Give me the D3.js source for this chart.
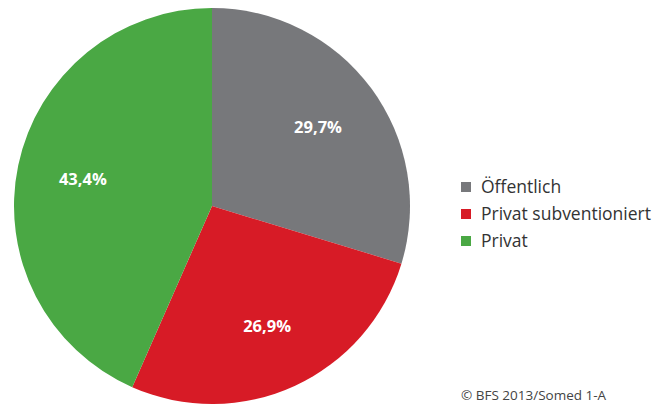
<!DOCTYPE html>
<html><head><meta charset="utf-8">
<script src="https://cdn.jsdelivr.net/npm/d3@7"></script>
<style>body{margin:0;background:#fff}svg{display:block}</style>
</head><body>
<svg id="c" width="653" height="404"></svg>
<script>
const categories = ["Öffentlich", "Privat subventioniert", "Privat"];
const values = [29.7, 26.9, 43.4];
const colors = ["#77787b", "#d71b26", "#4aa844"];
const labels = ["29,7%", "26,9%", "43,4%"];
const source = "© BFS 2013/Somed 1-A";

const svg = d3.select("#c");
const cx = 212, cy = 206, r = 198;
const pie = d3.pie().sort(null).value(d => d)(values);
const arc = d3.arc().innerRadius(0).outerRadius(r);
const labelArc = d3.arc().innerRadius(132).outerRadius(132);
const g = svg.append("g").attr("transform", `translate(${cx},${cy})`);
g.selectAll("path").data(pie).join("path")
  .attr("d", arc).attr("fill", (d, i) => colors[i]);
g.selectAll("text").data(pie).join("text")
  .attr("transform", d => `translate(${labelArc.centroid(d)})`)
  .attr("text-anchor", "middle").attr("dy", "0.36em")
  .attr("fill", "#fff").attr("font-family", "'Open Sans', sans-serif")
  .attr("font-weight", "bold").attr("font-size", 16.5)
  .text((d, i) => labels[i]);

const leg = svg.append("g").attr("transform", "translate(461,187)");
const rows = leg.selectAll("g").data(categories).join("g")
  .attr("transform", (d, i) => `translate(0,${i * 27})`);
rows.append("rect").attr("x", 0).attr("y", -5).attr("width", 10).attr("height", 10)
  .attr("fill", (d, i) => colors[i]);
rows.append("text").attr("x", 20).attr("dy", "0.36em")
  .attr("font-family", "'Open Sans', sans-serif").attr("font-size", 17.5)
  .attr("fill", "#333").text(d => d);

svg.append("text").attr("x", 461).attr("y", 400)
  .attr("font-family", "'Open Sans', sans-serif").attr("font-size", 13.5)
  .attr("fill", "#444").text(source);
</script>
</body></html>
